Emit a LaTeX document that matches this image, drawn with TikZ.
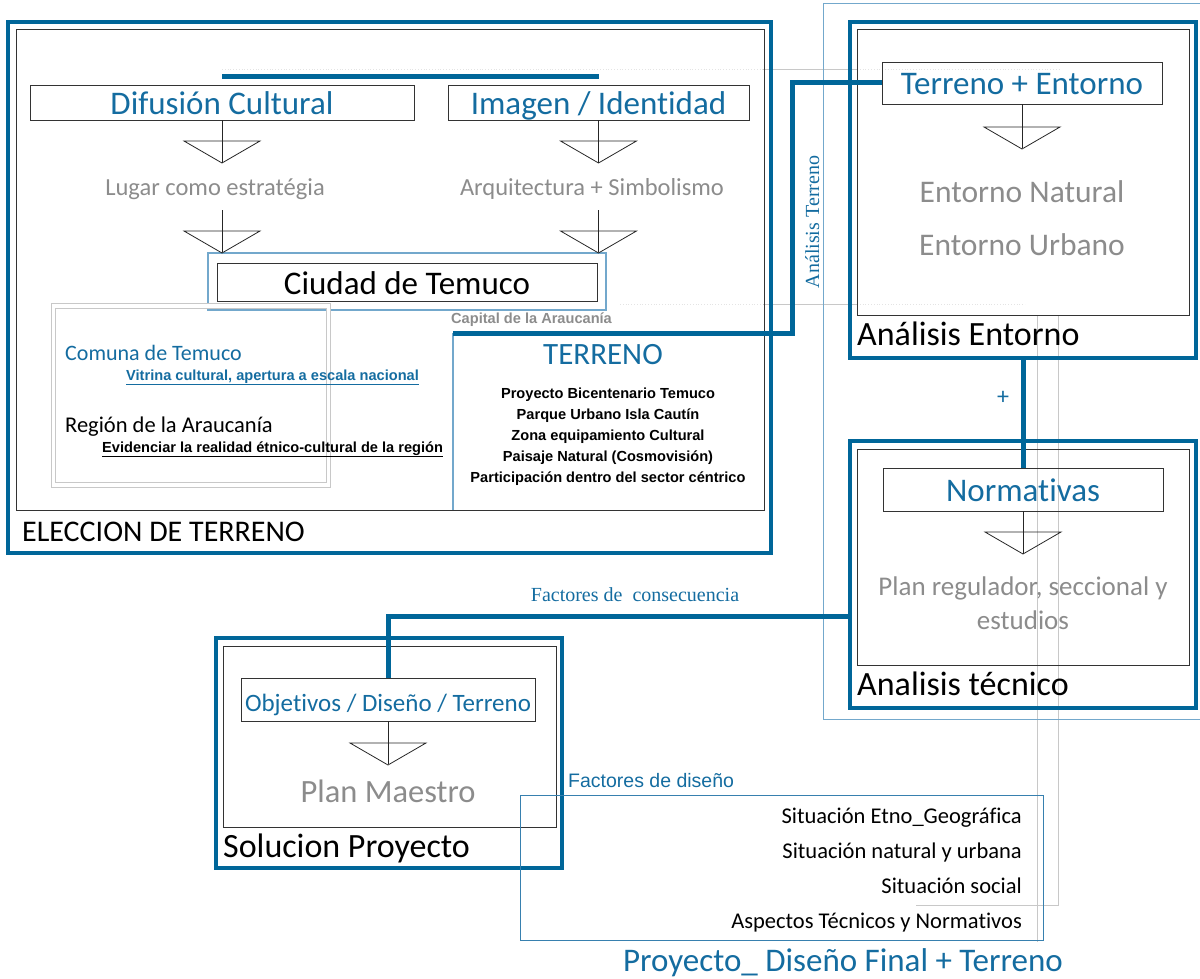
\documentclass[tikz,border=0pt]{standalone}
\usepackage{fontspec}
\setmainfont{Carlito}[Ligatures=NoCommon]
\newfontfamily\fuentearial{Liberation Sans}
\newfontfamily\fuenteserif{Liberation Serif}
\usetikzlibrary{positioning,calc}

\definecolor{azul}{RGB}{0,102,153}
\definecolor{azultexto}{RGB}{20,108,160}
\definecolor{azulclaro}{RGB}{115,168,204}
\definecolor{azulmedio}{RGB}{55,128,175}
\definecolor{grisclaro}{RGB}{200,200,200}
\definecolor{gristexto}{RGB}{140,140,140}

\tikzset{
  marco/.style={draw=azul, line width=4.5pt, inner sep=0pt},
  caja/.style={draw=black!80, line width=0.9pt, inner sep=0pt},
  titulo/.style={caja, text=azultexto, text height=24pt, text depth=0pt, font=\fontsize{33}{33}\selectfont},
  gris/.style={text=gristexto, inner sep=0pt, font=\fontsize{#1}{#1}\selectfont},
  rotulo/.style={anchor=base west, inner sep=0pt, font=\fontsize{34}{34}\selectfont},
  enlace/.style={draw=azul, line width=5pt},
  flecha/.style={draw=black!85, line width=0.8pt},
  guia/.style={draw=grisclaro, line width=0.9pt},
  punteada/.style={draw=grisclaro!50, line width=0.8pt, dotted},
  negrita/.style={inner sep=0pt, font=\fuentearial\bfseries\fontsize{14.6}{14.6}\selectfont},
  punta/.pic={\draw[flecha] (-38,0) -- (38,0) -- (0,22) -- cycle;}
}

\begin{document}
\begin{tikzpicture}[x=1pt,y=-1pt]
\useasboundingbox (0,0) rectangle (1200,979);

\draw[punteada] (222,69) -- (763,69) (857,69) -- (1060,69);
\draw[punteada] (620,304) -- (763,304) (857,304) -- (1025,304);
\draw[guia] (763,69) -- (857,69);
\draw[guia] (763,304) -- (857,304);
\draw[guia] (1037,315) -- (1037,942);
\draw[guia] (1058,315) -- (1058,905) -- (916,905);

\node[marco, minimum width=763pt, minimum height=531pt] (eleccion) at (389.5,287.5) {};
\node[caja, minimum width=748pt, minimum height=481pt] (eleccionin) at (390,269.5) {};
\node[rotulo, font=\fontsize{30}{30}\selectfont] (eleccionlbl) at (22,541) {ELECCION DE TERRENO};

\node[titulo, minimum width=384pt, minimum height=35pt] (difusion) at (222,102.5) {Difusión Cultural};
\node[titulo, minimum width=301pt, minimum height=35pt] (imagen) at (598.5,102.5) {Imagen / Identidad};
\draw[enlace] ([yshift=8pt]difusion.north) -- ([yshift=8pt]imagen.north);

\node[draw=azulclaro, line width=1.2pt, inner sep=0pt, minimum width=398pt, minimum height=57pt] (ciudadout) at (407,281.5) {};
\node[caja, text height=24pt, text depth=0pt, font=\fontsize{33}{33}\selectfont, minimum width=380pt, minimum height=38pt] (ciudad) at (407,282) {Ciudad de Temuco};

\draw[flecha] (difusion.south) -- ++(0,43);
\pic at (222,141) {punta};
\node[gris=24.5, anchor=base] (lugar) at (215,195) {Lugar como estratégia};
\draw[flecha] (difusion.south) ++(0,90) -- (difusion.south |- ciudadout.north);
\pic at (222,231) {punta};

\draw[flecha] (imagen.south) -- ++(0,43);
\pic at (598.5,141) {punta};
\node[gris=24.5, anchor=base] (arquitectura) at (592,195) {Arquitectura + Simbolismo};
\draw[flecha] (imagen.south) ++(0,90) -- (imagen.south |- ciudadout.north);
\pic at (598.5,231) {punta};

\node[anchor=base west, inner sep=0pt, text=gristexto, font=\fuentearial\bfseries\fontsize{14.6}{14.6}\selectfont] (capital) at (451,323) {Capital de la Araucanía};

\node[draw=grisclaro, double=white, double distance=3.5pt, line width=0.8pt, inner sep=0pt, minimum width=275pt, minimum height=179pt] (comunabox) at (191,395.5) {};
\node[anchor=base west, inner sep=0pt, text=azultexto, font=\fontsize{22}{22}\selectfont] (comuna) at (65,360) {Comuna de Temuco};
\node[anchor=base west, inner sep=0pt, text=azultexto, font=\fuentearial\bfseries\fontsize{14.6}{14.6}\selectfont] (vitrina) at (126,380) {\underline{Vitrina cultural, apertura a escala nacional}};
\node[anchor=base west, inner sep=0pt, font=\fontsize{22.5}{22.5}\selectfont] (region) at (65,432) {Región de la Araucanía};
\node[anchor=base west, inner sep=0pt, font=\fuentearial\bfseries\fontsize{14.6}{14.6}\selectfont] (evidenciar) at (102,452) {\underline{Evidenciar la realidad étnico-cultural de la región}};

\coordinate (terrenoesq) at (453,333);
\draw[draw=azulclaro, line width=1.2pt] (terrenoesq) -- (terrenoesq |- eleccionin.south);
\node[anchor=base, inner sep=0pt, text=azultexto, font=\fontsize{31}{31}\selectfont] (terreno) at (603,364) {TERRENO};
\foreach \texto [count=\i] in {Proyecto Bicentenario Temuco, Parque Urbano Isla Cautín, Zona equipamiento Cultural, Paisaje Natural (Cosmovisión), Participación dentro del sector céntrico}
  \node[negrita, anchor=base] (lista\i) at (608,{377+21*\i}) {\texto};

\node[draw=azulclaro, line width=1pt, inner sep=0pt, minimum width=382pt, minimum height=715pt] (derecha) at (1014,361.5) {};

\node[marco, minimum width=346pt, minimum height=336pt] (entorno) at (1023,190) {};
\node[caja, minimum width=332pt, minimum height=286pt] (entornoin) at (1023,172) {};
\node[titulo, minimum width=280pt, minimum height=42pt] (terrenoentorno) at (1022,83) {Terreno + Entorno};
\draw[flecha] (terrenoentorno.south) -- ++(0,44);
\pic at (1022,127) {punta};
\node[gris=31.5, anchor=base] (natural) at (1022,202) {Entorno Natural};
\node[gris=31.5, anchor=base] (urbano) at (1022,255) {Entorno Urbano};
\node[rotulo] (entornolbl) at (857,345) {Análisis Entorno};
\node[rotate=90, anchor=base, inner sep=0pt, text=azultexto, font=\fuenteserif\fontsize{20}{20}\selectfont] (analisisterreno) at (819,222) {Análisis Terreno};

\coordinate (codo) at (792,333);
\draw[enlace] (terrenoentorno.west) -| (codo) -- (terrenoesq);

\node[marco, minimum width=346pt, minimum height=267pt] (tecnico) at (1023,574.5) {};
\node[caja, minimum width=332pt, minimum height=216pt] (tecnicoin) at (1023,557) {};
\node[titulo, minimum width=280pt, minimum height=43pt] (normativas) at (1023,489.5) {Normativas};
\draw[enlace] (entorno.south) -- (normativas.north);
\node[text=azultexto, inner sep=0pt, font=\fontsize{24}{24}\selectfont] (mas) at (1003,398) {+};
\draw[flecha] (normativas.south) -- ++(0,43);
\pic at (1023,532) {punta};
\node[gris=27, anchor=base] (plan) at (1023,595) {Plan regulador, seccional y};
\node[gris=27, anchor=base] (estudios) at (1023,629) {estudios};
\node[rotulo] (tecnicolbl) at (857,695) {Analisis técnico};

\node[marco, minimum width=346pt, minimum height=230pt] (solucion) at (389,753) {};
\node[caja, minimum width=333pt, minimum height=181pt] (solucionin) at (389.5,736.5) {};
\node[titulo, font=\fontsize{25}{25}\selectfont, minimum width=294pt, minimum height=43pt] (objetivos) at (388,699.5) {Objetivos / Diseño / Terreno};
\draw[enlace] ([yshift=-41.5pt]tecnico.west) -| (objetivos.north);
\node[text=azultexto, anchor=base, inner sep=0pt, font=\fuenteserif\fontsize{20}{20}\selectfont] (consecuencia) at (635,601) {Factores de~ consecuencia};
\draw[flecha] (objetivos.south) -- ++(0,43);
\pic at (388,743) {punta};
\node[gris=32.5, anchor=base] (maestro) at (388,802) {Plan Maestro};
\node[rotulo] (solucionlbl) at (223,857) {Solucion Proyecto};

\node[draw=azulmedio, line width=0.9pt, inner sep=0pt, minimum width=523pt, minimum height=145pt] (factores) at (781.5,867.5) {};
\node[anchor=base west, inner sep=0pt, text=azultexto, font=\fuentearial\fontsize{19.5}{19.5}\selectfont] (disenolbl) at (568,787) {Factores de diseño};
\foreach \texto/\yy [count=\i] in {Situación Etno\_Geográfica/823, Situación natural y urbana/858, Situación social/893, Aspectos Técnicos y Normativos/928}
  \node[anchor=base east, inner sep=0pt, font=\fontsize{22.5}{22.5}\selectfont] (factor\i) at (1022,\yy) {\texto};

\node[anchor=base, inner sep=0pt, text=azultexto, font=\fontsize{33}{33}\selectfont] (final) at (843,971) {Proyecto\_ Diseño Final + Terreno};
\end{tikzpicture}
\end{document}
